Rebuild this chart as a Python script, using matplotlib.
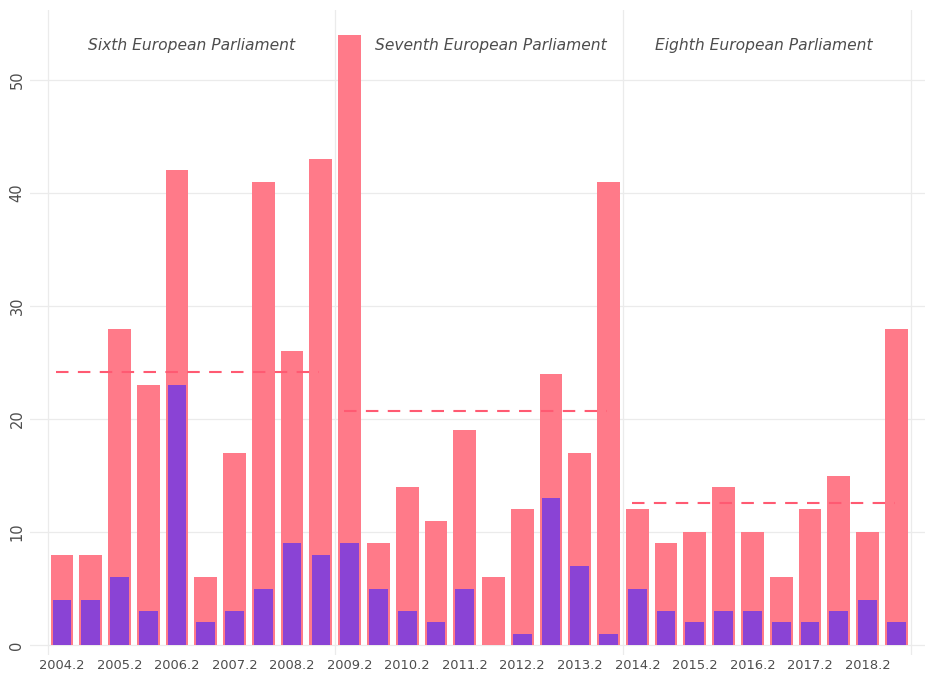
import numpy as np
import matplotlib
matplotlib.use('Agg')
import matplotlib.pyplot as plt

#-------------------------------------------------------
periods = ['2004.2', '2005.1', '2005.2', '2006.1', '2006.2', '2007.1', '2007.2', '2008.1',
           '2008.2', '2009.1', '2009.2', '2010.1', '2010.2', '2011.1', '2011.2', '2012.1',
           '2012.2', '2013.1', '2013.2', '2014.1', '2014.2', '2015.1', '2015.2', '2016.1',
           '2016.2', '2017.1', '2017.2', '2018.1', '2018.2', '2019.1']
total = [8, 8, 28, 23, 42, 6, 17, 41, 26, 43,
         54, 9, 14, 11, 19, 6, 12, 24, 17, 41,
         12, 9, 10, 14, 10, 6, 12, 15, 10, 28]
subset = [4, 4, 6, 3, 23, 2, 3, 5, 9, 8,
          9, 5, 3, 2, 5, 0, 1, 13, 7, 1,
          5, 3, 2, 3, 3, 2, 2, 3, 4, 2]
parliaments = ['Sixth European Parliament', 'Seventh European Parliament',
               'Eighth European Parliament']
groups = [(0, 9), (10, 19), (20, 29)]
label_pos = [4.5, 14.9, 24.4]
#-------------------------------------------------------

red = '#FF7A89'
purple = '#8A43D5'
grid = '#EBEBEB'
txt = '#4D4D4D'

plt.rcParams['font.family'] = ['DejaVu Sans']

fig = plt.figure(figsize=(9.26, 6.73), dpi=100)
ax = fig.add_axes([30 / 926, 18 / 673, 895 / 926, 645 / 673])

x = np.arange(len(periods))
total = np.array(total)
subset = np.array(subset)

ax.set_xlim(-1.11, 30.0)
ax.set_ylim(-0.88, 56.2)

for yv in range(0, 60, 10):
    ax.axhline(yv, color=grid, lw=0.9, zorder=0)
for xv in [-0.5, 9.5, 19.5, 29.5]:
    ax.axvline(xv, color=grid, lw=0.9, zorder=0)

ax.bar(x, total, width=0.79, color=red, zorder=2)
ax.bar(x, subset, width=0.65, color=purple, zorder=3)

for (a, b), name, lp in zip(groups, parliaments, label_pos):
    mean = total[a:b + 1].mean()
    ax.plot([a - 0.2, b - 0.05], [mean, mean], color='#FF5A72', lw=1.5,
            dashes=(6, 4.5), zorder=4)
    ax.text(lp, 53.1, name, ha='center', va='center', style='italic',
            fontsize=11.2, color=txt, zorder=5)

ax.set_xticks(x[::2])
ax.set_xticklabels(periods[::2], fontsize=9.4, color=txt)
ax.set_yticks(range(0, 60, 10))
ax.set_yticklabels([str(v) for v in range(0, 60, 10)], rotation=90, va='center',
                   fontsize=10.5, color=txt)
ax.tick_params(axis='x', length=0, pad=3)
ax.tick_params(axis='y', length=0, pad=4)
for s in ax.spines.values():
    s.set_visible(False)

fig.savefig('out.png', dpi=100, facecolor='white')
